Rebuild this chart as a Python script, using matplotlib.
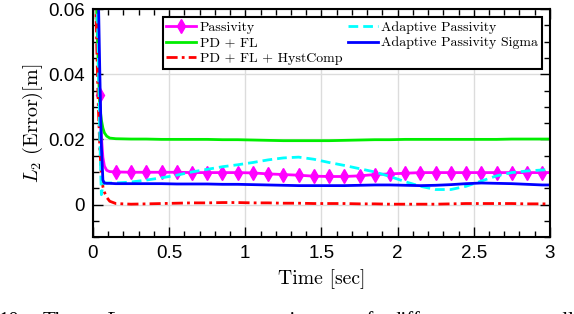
import matplotlib
matplotlib.use('Agg')
import matplotlib.pyplot as plt
from matplotlib.ticker import MultipleLocator

# ---------------- data ----------------
time = [0.0, 0.015, 0.025, 0.035, 0.045, 0.055, 0.065, 0.075, 0.09, 0.11,
        0.15, 0.25, 0.35, 0.45, 0.55, 0.65, 0.75, 0.85, 0.95, 1.05,
        1.15, 1.25, 1.35, 1.45, 1.55, 1.65, 1.75, 1.85, 1.95, 2.05,
        2.15, 2.25, 2.35, 2.45, 2.55, 2.65, 2.75, 2.85, 2.95, 3.0]

passivity = [0.2, 0.09, 0.062, 0.045, 0.0335, 0.021, 0.0145, 0.0118, 0.0105, 0.0101,
             0.0100, 0.0099, 0.0099, 0.0099, 0.0099, 0.0098, 0.0098, 0.0098, 0.0098, 0.0097,
             0.0094, 0.0092, 0.0090, 0.0087, 0.0086, 0.0086, 0.0088, 0.0092, 0.0094, 0.0096,
             0.0098, 0.0098, 0.0098, 0.0098, 0.0098, 0.0098, 0.0098, 0.0098, 0.0098, 0.0098]

pd_fl = [0.2, 0.09, 0.058, 0.042, 0.030, 0.026, 0.0235, 0.022, 0.0210, 0.0204,
         0.0202, 0.0201, 0.0201, 0.0200, 0.0200, 0.0200, 0.0200, 0.0199, 0.0199, 0.0198,
         0.0197, 0.0196, 0.0196, 0.0196, 0.0196, 0.0197, 0.0198, 0.0199, 0.0199, 0.0200,
         0.0200, 0.0200, 0.0200, 0.0200, 0.0200, 0.0200, 0.0201, 0.0201, 0.0201, 0.0201]

pd_fl_hyst = [0.2, 0.07, 0.048, 0.030, 0.017, 0.009, 0.0055, 0.0038, 0.0022, 0.0010,
              0.0003, 0.0001, 0.0002, 0.0003, 0.0004, 0.0005, 0.0005, 0.0006, 0.0006, 0.0005,
              0.0005, 0.0004, 0.0004, 0.0003, 0.0003, 0.0003, 0.0002, 0.0002, 0.0001, 0.0001,
              0.0001, 0.0001, 0.0002, 0.0003, 0.0003, 0.0003, 0.0003, 0.0002, 0.0002, 0.0002]

adaptive = [0.2, 0.1, 0.07, 0.045, 0.020, 0.003, 0.006, 0.0066, 0.0066, 0.0066,
            0.0066, 0.0069, 0.0075, 0.0082, 0.0090, 0.0100, 0.0108, 0.0116, 0.0122, 0.0129,
            0.0137, 0.0143, 0.01455, 0.0139, 0.0129, 0.0120, 0.0110, 0.0100, 0.0086, 0.0070,
            0.0056, 0.0046, 0.0046, 0.0056, 0.0072, 0.0088, 0.0098, 0.0103, 0.0106, 0.0107]

adaptive_sigma = [0.2, 0.14, 0.10, 0.065, 0.040, 0.018, 0.0075, 0.0066, 0.0065, 0.0065,
                  0.0064, 0.0064, 0.0064, 0.0064, 0.0063, 0.0063, 0.0063, 0.0062, 0.0062, 0.0061,
                  0.0060, 0.0059, 0.0058, 0.0058, 0.0058, 0.0058, 0.0059, 0.0060, 0.0060, 0.0059,
                  0.0058, 0.0059, 0.0061, 0.0064, 0.0066, 0.0065, 0.0064, 0.0062, 0.0060, 0.0060]

labels = ["Passivity", "PD + FL", "PD + FL + HystComp",
          "Adaptive Passivity", "Adaptive Passivity Sigma"]
xticks = [0, 0.5, 1, 1.5, 2, 2.5, 3]
xticklabels = ["0", "0.5", "1", "1.5", "2", "2.5", "3"]
yticks = [0, 0.02, 0.04, 0.06]
yticklabels = ["0", "0.02", "0.04", "0.06"]

caption_words = ["10:", "The", r"$L_2$", "norm", "comparison", "of",
                 "different", "controllers"]

# ---------------- figure ----------------
plt.rcParams['mathtext.fontset'] = 'cm'
plt.rcParams['axes.unicode_minus'] = False

W, H = 574, 314
fig = plt.figure(figsize=(W / 100, H / 100), dpi=100)
ax = fig.add_axes([0.162, 0.245, 0.796, 0.726])

lw = 2.0
marker_idx = [4] + list(range(10, 39))
ax.plot(time, passivity, color='#FF00FF', lw=lw, marker='d', markersize=7.5,
        markevery=marker_idx, label=labels[0])
ax.plot(time, pd_fl, color='#00EE00', lw=lw, label=labels[1])
ax.plot(time, pd_fl_hyst, color='#FF0000', lw=lw, linestyle=(0, (4, 1.5, 1, 1.5)),
        label=labels[2])
ax.plot(time, adaptive, color='#00FFFF', lw=lw, linestyle=(0, (3.5, 1.8)),
        label=labels[3])
ax.plot(time, adaptive_sigma, color='#0000FF', lw=lw, label=labels[4])

ax.set_xlim(0, 3)
ax.set_ylim(-0.01, 0.06)
ax.set_xticks(xticks)
ax.set_xticklabels(xticklabels)
ax.set_yticks(yticks)
ax.set_yticklabels(yticklabels)
ax.xaxis.set_minor_locator(MultipleLocator(0.1))
ax.yaxis.set_minor_locator(MultipleLocator(0.005))
ax.tick_params(which='both', direction='in', top=True, right=True,
               labelsize=13.5, width=1.0, pad=6)
ax.tick_params(which='major', length=7)
ax.tick_params(which='minor', length=4)
for lab in ax.get_xticklabels() + ax.get_yticklabels():
    lab.set_family('Liberation Sans')
ax.grid(True, which='major', color='#DCDCDC', lw=1.0)
ax.set_axisbelow(True)
for sp in ax.spines.values():
    sp.set_linewidth(1.5)

ax.set_xlabel('Time [sec]', family='cmr10', fontsize=14.2, labelpad=5)
ax.set_ylabel(r'$L_2$ (Error)[m]', family='cmr10', fontsize=14.5, labelpad=2)

leg = ax.legend(loc='upper right', ncol=2, prop={'family': 'cmr10', 'size': 10},
                frameon=True, fancybox=False, framealpha=1, edgecolor='black',
                borderaxespad=0.6, handlelength=2.15, handletextpad=0.25,
                columnspacing=0.4, labelspacing=0.22, borderpad=0.25)
leg.get_frame().set_linewidth(1.5)

# partially visible caption below the figure (clipped by the figure edge)
caption_x = [-2, 43, 103, 160, 227, 356, 390, 509]
for word, xp in zip(caption_words, caption_x):
    fig.text(xp / W, -12 / H, word, family='Liberation Serif', fontsize=15,
             ha='left', va='baseline')

fig.savefig('out.png', dpi=100)
